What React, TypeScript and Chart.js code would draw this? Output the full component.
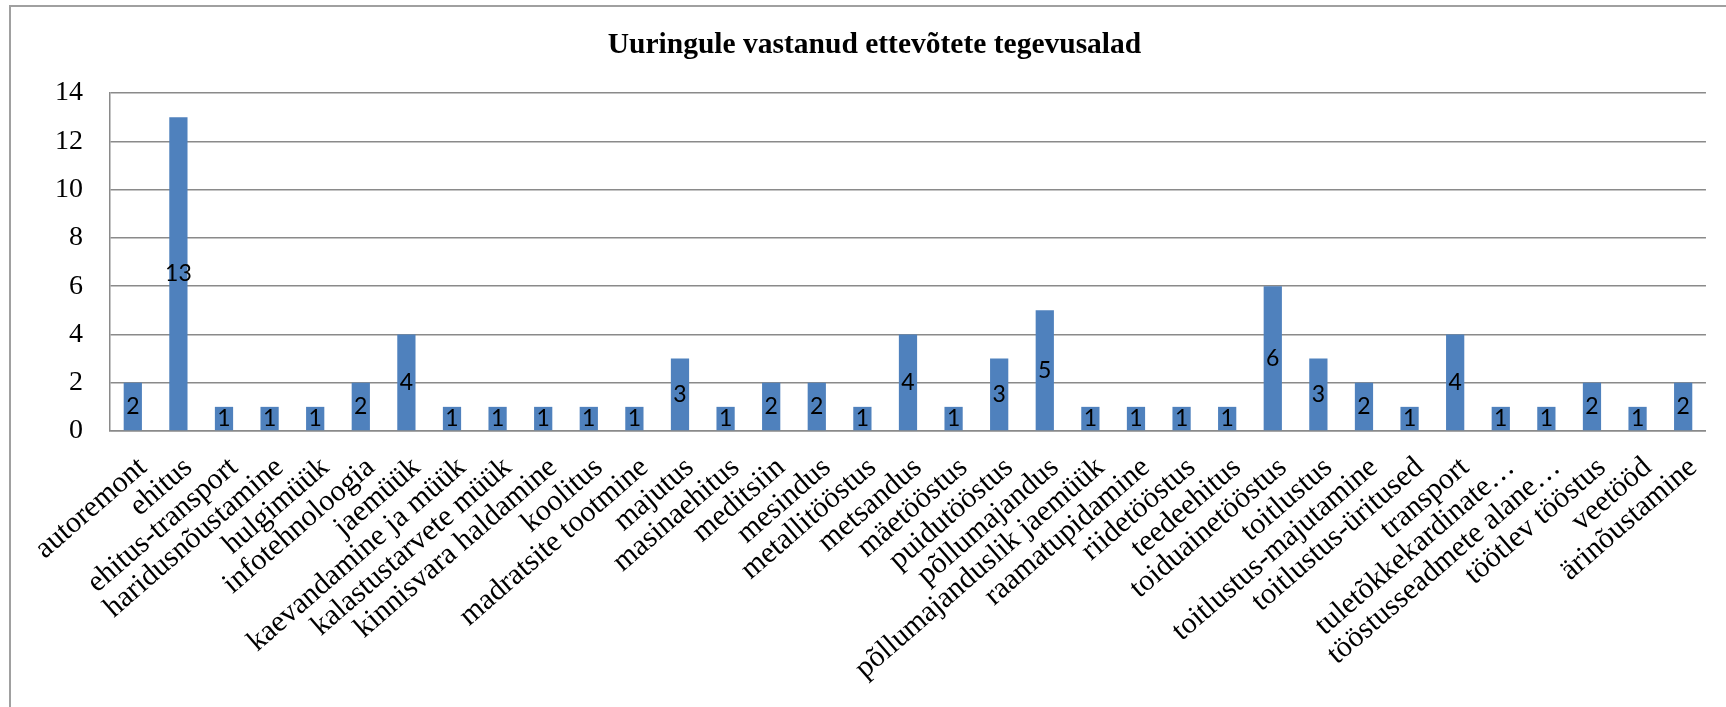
import React, { useEffect, useRef } from "react";
import { Chart, registerables } from "chart.js";

Chart.register(...registerables);

const TITLE = "Uuringule vastanud ettevõtete tegevusalad";

const categories: string[] = [
  "autoremont",
  "ehitus",
  "ehitus-transport",
  "haridusnõustamine",
  "hulgimüük",
  "infotehnoloogia",
  "jaemüük",
  "kaevandamine ja müük",
  "kalastustarvete müük",
  "kinnisvara haldamine",
  "koolitus",
  "madratsite tootmine",
  "majutus",
  "masinaehitus",
  "meditsiin",
  "mesindus",
  "metallitööstus",
  "metsandus",
  "mäetööstus",
  "puidutööstus",
  "põllumajandus",
  "põllumajanduslik jaemüük",
  "raamatupidamine",
  "riidetööstus",
  "teedeehitus",
  "toiduainetööstus",
  "toitlustus",
  "toitlustus-majutamine",
  "toitlustus-üritused",
  "transport",
  "tuletõkkekardinate…",
  "tööstusseadmete alane…",
  "töötlev tööstus",
  "veetööd",
  "ärinõustamine",
];

const counts: number[] = [
  2, 13, 1, 1, 1, 2, 4, 1, 1, 1, 1, 1, 3, 1, 2, 2, 1, 4, 1, 3, 5, 1, 1, 1, 1, 6,
  3, 2, 1, 4, 1, 1, 2, 1, 2,
];

const yTicks: number[] = [0, 2, 4, 6, 8, 10, 12, 14];

const W = 1726;
const H = 707;

const framePlugin = {
  id: "frameAndTitle",
  beforeDraw(chart: any) {
    const ctx = chart.ctx;
    ctx.save();
    ctx.strokeStyle = "#a0a0a0";
    ctx.lineWidth = 2;
    ctx.beginPath();
    ctx.moveTo(10, H + 2);
    ctx.lineTo(10, 6);
    ctx.lineTo(W + 2, 6);
    ctx.stroke();
    ctx.restore();
  },
  afterDraw(chart: any) {
    const ctx = chart.ctx;
    ctx.save();
    ctx.fillStyle = "#000";
    ctx.font = 'bold 29.5px "Liberation Serif"';
    ctx.textAlign = "center";
    ctx.textBaseline = "alphabetic";
    ctx.fillText(TITLE, 874.5, 53);
    ctx.restore();
  },
};

const valueLabelPlugin = {
  id: "valueLabels",
  afterDatasetsDraw(chart: any) {
    const ctx = chart.ctx;
    const meta = chart.getDatasetMeta(0);
    const data = chart.data.datasets[0].data as number[];
    ctx.save();
    ctx.fillStyle = "#000";
    ctx.font = "23px Lato";
    ctx.textAlign = "center";
    ctx.textBaseline = "middle";
    meta.data.forEach((el: any, i: number) => {
      const cy = (el.y + el.base) / 2;
      ctx.fillText(String(data[i]), el.x, cy);
    });
    ctx.restore();
  },
};

export default function App() {
  const ref = useRef<HTMLCanvasElement | null>(null);

  useEffect(() => {
    if (!ref.current) return;
    const chart = new Chart(ref.current, {
      type: "bar",
      data: {
        labels: categories,
        datasets: [
          {
            data: counts,
            backgroundColor: "#4F81BD",
            borderWidth: 0,
            categoryPercentage: 1,
            barPercentage: 0.4,
          },
        ],
      },
      options: {
        responsive: false,
        animation: false,
        layout: { padding: { top: 93, left: 0, right: 15, bottom: 0 } },
        plugins: {
          legend: { display: false },
          title: { display: false },
          tooltip: { enabled: false },
        },
        scales: {
          x: {
            grid: { display: false, drawTicks: false },
            border: { display: true, color: "#8a8a8a", width: 1.5 },
            ticks: {
              autoSkip: false,
              minRotation: 41,
              maxRotation: 41,
              padding: 19,
              labelOffset: 10,
              color: "#000",
              font: { family: '"Liberation Serif"', size: 30 },
            },
            afterFit(axis: any) {
              axis.height = H - 431;
            },
          },
          y: {
            min: 0,
            max: 14,
            afterBuildTicks(axis: any) {
              axis.ticks = yTicks.map((v) => ({ value: v }));
            },
            grid: { color: "#8a8a8a", lineWidth: 1.5, drawTicks: false },
            border: { display: true, color: "#8a8a8a", width: 1.5 },
            ticks: {
              padding: 27,
              color: "#000",
              font: { family: '"Liberation Serif"', size: 28 },
            },
            afterFit(axis: any) {
              axis.width = 110;
            },
          },
        },
      },
      plugins: [framePlugin, valueLabelPlugin],
    });
    return () => chart.destroy();
  }, []);

  return (
    <canvas
      ref={ref}
      width={W}
      height={H}
      style={{ position: "absolute", left: 0, top: 0, display: "block" }}
    />
  );
}
